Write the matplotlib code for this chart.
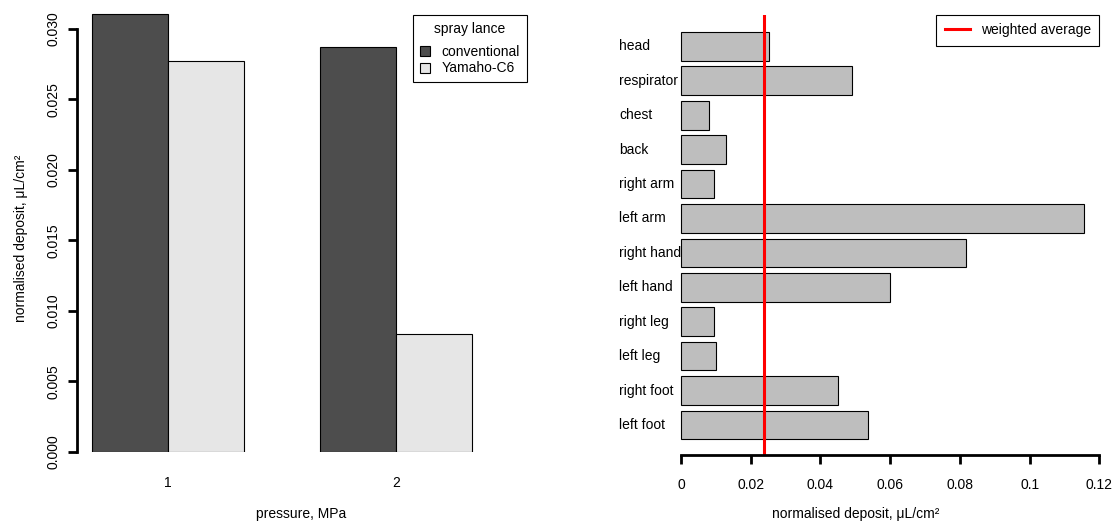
import matplotlib
matplotlib.use("Agg")
import matplotlib.pyplot as plt
import matplotlib.transforms as mtransforms
from matplotlib.patches import Patch
from matplotlib.lines import Line2D
import numpy as np

plt.rcParams['font.family'] = ['Liberation Sans', 'DejaVu Sans']
plt.rcParams['font.size'] = 10

# ---- data ----
pressures = ["1", "2"]
lances = ["conventional", "Yamaho-C6"]
deposit_conventional = [0.0310, 0.0287]
deposit_yamaho = [0.0277, 0.00835]

body_parts = ["left foot", "right foot", "left leg", "right leg", "left hand",
              "right hand", "left arm", "right arm", "back", "chest",
              "respirator", "head"]
body_deposit = [0.0536, 0.0449, 0.0101, 0.0095, 0.0600,
                0.0817, 0.1157, 0.0095, 0.0129, 0.0081,
                0.0491, 0.0253]
weighted_average = 0.0239

W, H = 1113, 521
fig = plt.figure(figsize=(W / 100, H / 100), dpi=100)

def px_axes(x0, x1, y_top, y_bot):
    return fig.add_axes([x0 / W, 1 - y_bot / H, (x1 - x0) / W, (y_bot - y_top) / H])

col_conv = "#4D4D4D"
col_yam = "#E6E6E6"

# ---- left panel ----
ax1 = px_axes(76.8, 487.2, 10, 452)
n = len(pressures)
centers = np.arange(n) * 3 + 1.0
ax1.bar(centers - 0.5, deposit_conventional, width=1, color=col_conv,
        edgecolor="black", linewidth=0.8)
ax1.bar(centers + 0.5, deposit_yamaho, width=1, color=col_yam,
        edgecolor="black", linewidth=0.8)
ax1.set_xlim(-0.2, 5.2)
ax1.set_ylim(0, (452 - 10) / (423.4 / 0.03))
for s in ["top", "right", "bottom"]:
    ax1.spines[s].set_visible(False)
ax1.spines["left"].set_linewidth(2)
ax1.spines["left"].set_bounds(0, 0.03)
yt = np.arange(0, 0.0301, 0.005)
ax1.set_yticks(yt)
ax1.set_yticklabels([f"{v:.3f}" for v in yt], rotation=90, va="center")
ax1.tick_params(axis="y", direction="out", length=6.5, width=2, pad=5.5)
ax1.set_xticks(centers)
ax1.set_xticklabels(pressures)
ax1.tick_params(axis="x", length=0, pad=17)
fig.text(301 / W, 1 - 514 / H, "pressure, MPa", ha="center", va="center")
fig.text(21 / W, 1 - 238 / H, "normalised deposit, μL/cm²", rotation=90,
         ha="center", va="center")

handles = [Patch(facecolor=col_conv, edgecolor="black", linewidth=0.8),
           Patch(facecolor=col_yam, edgecolor="black", linewidth=0.8)]
leg1 = ax1.legend(handles, lances, title="spray lance", loc="upper left",
                  bbox_to_anchor=(413 / W, 1 - 15 / H), bbox_transform=fig.transFigure,
                  borderaxespad=0, fancybox=False, framealpha=1, edgecolor="black",
                  handlelength=0.75, handleheight=0.75, handletextpad=0.8,
                  labelspacing=0.18, borderpad=0.5, title_fontsize=10)
leg1.get_frame().set_linewidth(0.8)
leg1._legend_box.sep = 6.5

# ---- right panel ----
ppu = 3486.0
x0_px = 681.0
ax2 = px_axes(x0_px - 0.0048 * ppu, 1113, 15, 455)
ypos = 0.7 + 1.2 * np.arange(len(body_parts))
ax2.barh(ypos, body_deposit, height=1, color="#BEBEBE", edgecolor="black",
         linewidth=0.8)
ax2.set_xlim(-0.0048, -0.0048 + (1113 - (x0_px - 0.0048 * ppu)) / ppu)
ax2.set_ylim(-0.347, 14.993)
ax2.axvline(weighted_average, color="#FF0000", linewidth=2.2)
for s in ["top", "right", "left"]:
    ax2.spines[s].set_visible(False)
ax2.spines["bottom"].set_linewidth(2)
ax2.spines["bottom"].set_bounds(0, 0.12)
xt = [0, 0.02, 0.04, 0.06, 0.08, 0.1, 0.12]
ax2.set_xticks(xt)
ax2.set_xticklabels(["0", "0.02", "0.04", "0.06", "0.08", "0.1", "0.12"])
ax2.tick_params(axis="x", direction="out", length=6.5, width=2, pad=10)
ax2.set_yticks([])
tr = mtransforms.blended_transform_factory(fig.transFigure, ax2.transData)
for yv, lab in zip(ypos, body_parts):
    ax2.text(619 / W, yv, lab, transform=tr, ha="left", va="center")
fig.text(856 / W, 1 - 514 / H, "normalised deposit, μL/cm²", ha="center", va="center")

leg2 = ax2.legend([Line2D([], [], color="#FF0000", linewidth=2.2)], ["weighted average"],
                  loc="upper right", bbox_to_anchor=(1099.3 / W, 1 - 15 / H),
                  bbox_transform=fig.transFigure, borderaxespad=0, fancybox=False,
                  framealpha=1, edgecolor="black", handlelength=1.8,
                  handletextpad=0.8, borderpad=0.6)
leg2.get_frame().set_linewidth(0.8)

fig.savefig("out.png", dpi=100)
